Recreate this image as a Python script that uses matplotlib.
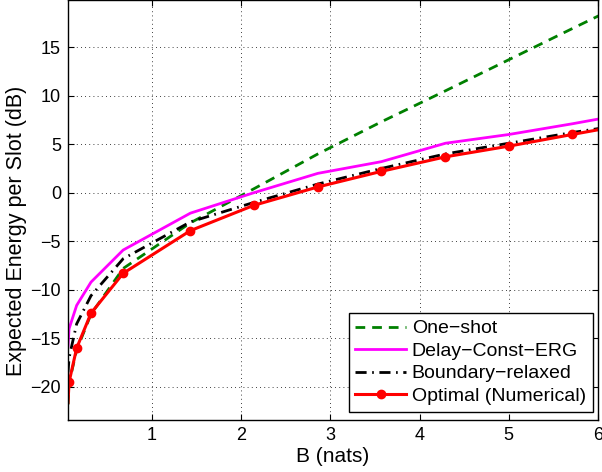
import numpy as np
import matplotlib.pyplot as plt

# B (nats) grid
b_vals = [0.058, 0.07, 0.155, 0.316, 0.676, 1.43, 2.14, 2.86, 3.57, 4.29, 5.0, 5.71, 6.43]

one_shot = [-21.8, -19.6, -16.2, -12.5, -7.8, -3.1, 0.4, 4.0, 7.3, 10.5, 13.7, 16.9, 20.1]
delay_const_erg = [-15.8, -14.0, -11.6, -9.2, -5.9, -2.1, 0.0, 2.0, 3.2, 5.1, 6.0, 7.1, 8.3]
boundary_relaxed = [-18.5, -17.0, -13.5, -10.6, -6.8, -3.0, -1.0, 0.9, 2.5, 4.0, 5.1, 6.2, 7.2]
optimal_num = [-21.6, -19.5, -16.0, -12.4, -8.3, -3.9, -1.3, 0.6, 2.2, 3.7, 4.8, 6.0, 7.2]

x_ticks = [1, 2, 3, 4, 5, 6]
y_ticks = [-20, -15, -10, -5, 0, 5, 10, 15]

plt.rcParams['font.family'] = ['Liberation Sans', 'DejaVu Sans']

fig = plt.figure(figsize=(6.02, 4.72), dpi=100)
ax = fig.add_axes([68/602, 52/472, 530/602, 420/472])

ax.plot(b_vals, one_shot, color='#008000', linestyle=(0, (3.5, 2.5)), linewidth=2.0, label='One\u2212shot')
ax.plot(b_vals, delay_const_erg, color='#ff00ff', linewidth=2.0, label='Delay\u2212Const\u2212ERG')
ax.plot(b_vals, boundary_relaxed, color='black', linestyle=(0, (4, 2, 0.6, 2)), linewidth=2.0, label='Boundary\u2212relaxed')
ax.plot(b_vals, optimal_num, color='#ff0000', linewidth=2.2, marker='o', markersize=6,
        markevery=list(range(1, len(b_vals))), label='Optimal (Numerical)')

ax.set_xlim(0.058, 6)
ax.set_ylim(-23.4, 19.85)
ax.set_xticks(x_ticks)
ax.set_yticks(y_ticks)
ax.set_xticklabels([str(t) for t in x_ticks])
ax.set_yticklabels([str(t).replace('-', '\u2212') for t in y_ticks])
ax.tick_params(direction='in', top=True, right=True, labelsize=13, length=4, width=0.8, pad=5)
ax.grid(True, linestyle=(0, (1, 4)), color='black', linewidth=0.6)

for s in ax.spines.values():
    s.set_linewidth(1.0)

ax.set_xlabel('B (nats)', fontsize=15)
ax.set_ylabel('Expected Energy per Slot (dB)', fontsize=15.5)
ax.yaxis.set_label_coords(-0.077, 0.45)
ax.xaxis.set_label_coords(0.5, -0.065)

leg = ax.legend(loc='lower right', fontsize=14, handlelength=2.6, borderpad=0.35,
                labelspacing=0.25, handletextpad=0.3, fancybox=False, framealpha=1,
                bbox_to_anchor=(0.99, 0.02), borderaxespad=0)
leg.get_frame().set_edgecolor('black')
leg.get_frame().set_linewidth(1.0)

fig.savefig('out.png', dpi=100)
